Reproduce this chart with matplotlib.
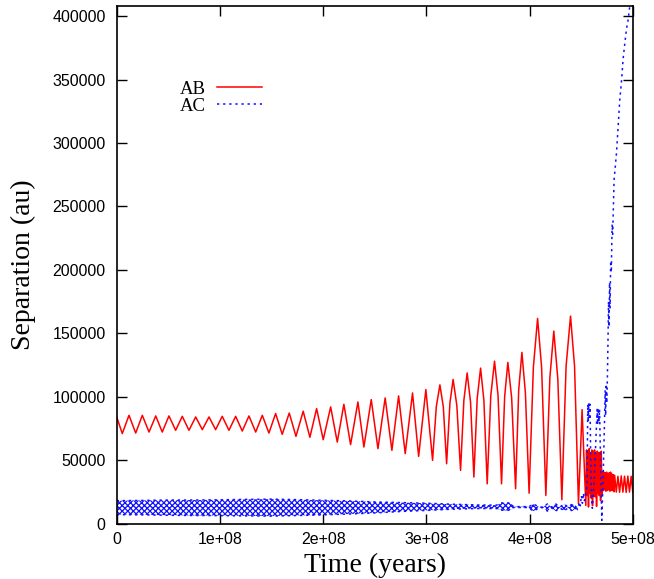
import matplotlib
matplotlib.use('Agg')
import matplotlib.pyplot as plt

plt.rcParams['hatch.linewidth'] = 0.9
plt.rcParams['hatch.color'] = '#1010ff'

UNIT = 1e8  # time values below are in units of 1e8 years

# ---------------- AB separation (au) ----------------
ab_time = [0.000, 0.054, 0.119, 0.184, 0.248, 0.313, 0.378, 0.441, 0.506, 0.571,
           0.635, 0.700, 0.765, 0.829, 0.894, 0.958, 1.022, 1.087, 1.152, 1.216,
           1.281, 1.346, 1.410, 1.474, 1.539, 1.603, 1.671, 1.736, 1.806, 1.871,
           1.936, 2.000, 2.072, 2.136, 2.200, 2.265, 2.336, 2.394, 2.465, 2.530,
           2.600, 2.665, 2.730, 2.794, 2.865, 2.924, 2.994, 3.059, 3.095, 3.130,
           3.163, 3.195, 3.227, 3.258, 3.294, 3.330, 3.362, 3.394, 3.427, 3.459,
           3.491, 3.524, 3.556, 3.588, 3.623, 3.659, 3.693, 3.727, 3.757, 3.788,
           3.825, 3.863, 3.893, 3.924, 3.958, 3.994, 4.035, 4.076, 4.115, 4.156,
           4.195, 4.233, 4.272, 4.311, 4.352, 4.395, 4.434, 4.472, 4.507, 4.543,
           4.550, 4.556, 4.563, 4.569, 4.576, 4.582, 4.589, 4.595, 4.602, 4.608,
           4.615, 4.621, 4.628, 4.634, 4.641, 4.647, 4.654, 4.660, 4.667, 4.673,
           4.680, 4.686, 4.693, 4.699, 4.706,
           4.712, 4.718, 4.725, 4.731, 4.738, 4.744, 4.751, 4.757, 4.764, 4.770,
           4.777, 4.783, 4.790, 4.796, 4.803, 4.809, 4.816, 4.822,
           4.838, 4.854, 4.870, 4.886, 4.902, 4.918, 4.934, 4.950, 4.966, 4.982, 4.998]
ab_sep = [84000, 70900, 85300, 71300, 85300, 72100, 84800, 72100, 84800, 73500,
          84500, 73500, 84000, 74000, 84000, 74000, 84500, 73500, 84500, 72900,
          84800, 72100, 85300, 71300, 86700, 70300, 87100, 68700, 88500, 68000,
          90600, 66100, 91900, 64200, 94000, 62200, 95800, 60300, 97700, 59000,
          99000, 57700, 100600, 55100, 102900, 52900, 105600, 49800, 92000, 109300,
          92000, 47100, 95000, 113600, 93000, 41900, 97000, 118700, 95500, 36600,
          98500, 122500, 97000, 31300, 101000, 128000, 101000, 31300, 100000, 127000,
          99000, 27400, 105000, 134900, 103000, 23900, 123000, 161700, 123000, 22100,
          115000, 151700, 114000, 18700, 124000, 163500, 124000, 15600, 89800, 14200,
          58000, 22000, 57000, 13000, 59000, 24000, 56000, 20000, 58000, 14000,
          57000, 23000, 58000, 21000, 55000, 13500, 57000, 24000, 56000, 22000,
          56000, 18000, 57000, 23000, 41000,
          26000, 40500, 26500, 40000, 25500, 40500, 26000, 39500, 26500, 40000,
          25500, 40500, 26000, 39000, 26000, 38500, 25000, 38000,
          24800, 37200, 24600, 37500, 24700, 37300, 24500, 37400, 24800, 37200, 24600]

# ---------------- AC separation (au) ----------------
# fast-oscillation band: read envelope
ac_band_time = [0.00, 0.25, 0.50, 0.75, 1.00, 1.25, 1.50, 1.75, 2.00, 2.25,
                2.50, 2.75, 3.00, 3.25, 3.50, 3.68, 3.72, 3.78, 3.82, 3.84,
                3.97, 3.985, 4.038, 4.091, 4.130, 4.170, 4.211, 4.251, 4.292, 4.332,
                4.372, 4.412, 4.453]
ac_band_upper = [18000, 18200, 18500, 18500, 18700, 19000, 19200, 18800, 18300, 17800,
                 17000, 16500, 16000, 15200, 14600, 14500, 16200, 16300, 16000, 13300,
                 13300, 13000, 15300, 13000, 12900, 15400, 12900, 15400, 12900, 15400,
                 12900, 15400, 12900]
ac_band_lower = [7000, 6800, 6500, 6300, 6200, 6000, 5800, 6300, 6800, 7500,
                 8300, 9500, 10300, 11300, 11800, 11800, 10500, 10300, 10800, 12600,
                 12600, 12400, 9800, 12400, 12500, 9800, 12400, 9800, 12400, 9800,
                 12400, 9800, 12400]
# break-up and escape
ac_tail_time = [4.453, 4.462, 4.470, 4.480, 4.490, 4.500, 4.510, 4.520, 4.530, 4.542,
                4.555, 4.562, 4.567, 4.572, 4.578, 4.584, 4.592, 4.600, 4.606, 4.615,
                4.630, 4.645, 4.652, 4.658, 4.664, 4.670, 4.676, 4.688, 4.698, 4.712,
                4.724, 4.730, 4.735, 4.741, 4.746, 4.752, 4.758, 4.763, 4.768, 4.773,
                4.778, 4.784, 4.790, 4.798, 4.803, 4.817, 4.840, 4.872, 4.890, 4.904,
                4.920, 4.937, 4.953, 4.969, 4.985]
ac_tail_sep = [12400, 11000, 12500, 17000, 14000, 22000, 16000, 24000, 18000, 23000,
               30000, 94000, 80000, 95000, 82000, 94000, 40000, 18000, 12000, 22000,
               45000, 75000, 90000, 78000, 91000, 80000, 90000, 40000, 2500, 40000,
               80000, 105000, 85000, 110000, 95000, 115000, 145000, 175000, 155000, 190000,
               170000, 207000, 198000, 236000, 228000, 271000, 292000, 334000, 350000, 366000,
               378000, 390000, 397000, 408000, 420000]

x_ticks = [0, 1e8, 2e8, 3e8, 4e8, 5e8]
x_tick_labels = ['0', '1e+08', '2e+08', '3e+08', '4e+08', '5e+08']
y_ticks = [0, 50000, 100000, 150000, 200000, 250000, 300000, 350000, 400000]
y_tick_labels = ['0', '50000', '100000', '150000', '200000', '250000', '300000', '350000', '400000']

RED = '#ff0000'
BLUE = '#1010ff'
dotted = (0, (1.5, 2.5))

fig = plt.figure(figsize=(6.54, 5.79), dpi=100)
ax = fig.add_axes([116.7 / 654, (579 - 523.5) / 579, 516.3 / 654, 517.5 / 579])

ax.plot([t * UNIT for t in ab_time], ab_sep, color=RED, lw=1.1, label='AB')

bt = [t * UNIT for t in ac_band_time]
ax.fill_between(bt, ac_band_lower, ac_band_upper, facecolor='none', edgecolor=BLUE,
                hatch='xxxxxx', linewidth=0)
ax.plot(bt, ac_band_upper, color=BLUE, lw=1.1, ls=dotted)
ax.plot(bt, ac_band_lower, color=BLUE, lw=1.1, ls=dotted)
ax.plot([t * UNIT for t in ac_tail_time], ac_tail_sep, color=BLUE, lw=1.1, ls=dotted,
        label='AC')

ax.set_xlim(0, 5e8)
ax.set_ylim(0, 408000)
ax.set_xticks(x_ticks)
ax.set_xticklabels(x_tick_labels)
ax.set_yticks(y_ticks)
ax.set_yticklabels(y_tick_labels)
for lab in ax.get_xticklabels() + ax.get_yticklabels():
    lab.set_fontfamily('Liberation Sans')
ax.tick_params(direction='in', length=7, width=1, top=True, right=True,
               labelsize=11.5)
ax.tick_params(axis='y', pad=8)
ax.tick_params(axis='x', pad=6)
for s in ax.spines.values():
    s.set_linewidth(1.2)

ax.set_xlabel('Time (years)', fontfamily='Liberation Serif', fontsize=20, labelpad=4)
ax.set_ylabel('Separation (au)', fontfamily='Liberation Serif', fontsize=20, labelpad=12)

leg = ax.legend(loc='upper right', bbox_to_anchor=(0.2814, 0.856), frameon=False,
                markerfirst=False, handlelength=2.4, handletextpad=0.6,
                borderpad=0, borderaxespad=0, labelspacing=0.0,
                prop={'family': 'Liberation Serif', 'size': 13.5})
for t in leg.get_texts():
    t.set_ha('right')

fig.savefig('out.png', dpi=100)
